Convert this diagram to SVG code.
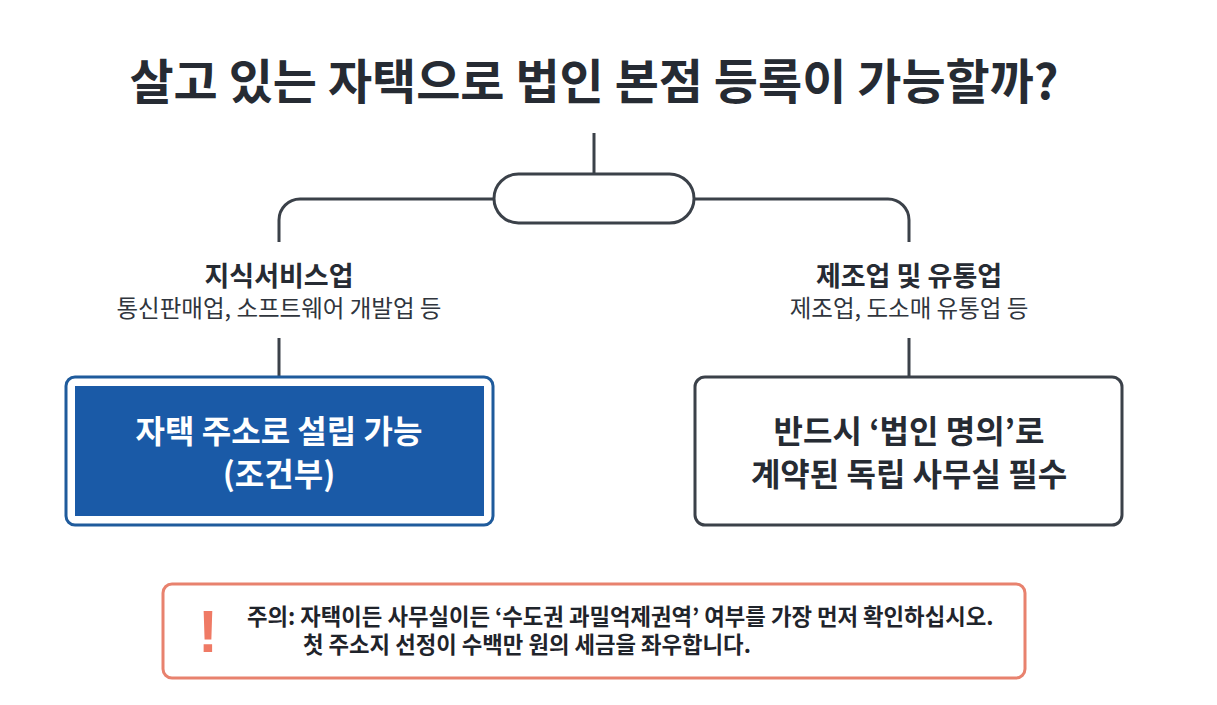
<svg xmlns="http://www.w3.org/2000/svg" width="1217" height="705" viewBox="0 0 1217 705">
<style>
.t{font-family:"Noto Sans CJK KR","Noto Sans",sans-serif;}
.title{font-size:48px;font-weight:700;fill:#262b33;}
.lab{font-size:27px;font-weight:700;fill:#262b33;}
.sub{font-size:23.5px;font-weight:400;fill:#30353d;}
.big{font-size:32px;font-weight:700;}
.note{font-size:22.3px;font-weight:700;fill:#1f242b;}
.conn{fill:none;stroke:#3b4149;stroke-width:3;stroke-linecap:butt;}
</style>
<rect width="1217" height="705" fill="#ffffff"/>
<text class="t title" x="594" y="99" text-anchor="middle">살고 있는 자택으로 법인 본점 등록이 가능할까?</text>
<g id="connectors">
<line class="conn" x1="594" y1="133" x2="594" y2="174"/>
<path class="conn" d="M494 199 H300 A21 21 0 0 0 279 220 V242"/>
<path class="conn" d="M694 199 H888 A21 21 0 0 1 909 220 V242"/>
<line class="conn" x1="279" y1="338" x2="279" y2="377"/>
<line class="conn" x1="909" y1="338" x2="909" y2="377"/>
</g>
<g id="hub">
<rect x="494" y="174" width="200" height="49" rx="24.5" fill="#ffffff" stroke="#3b4149" stroke-width="3"/>
</g>
<g id="label-left">
<text class="t lab" x="279" y="286" text-anchor="middle">지식서비스업</text>
<text class="t sub" x="279" y="317" text-anchor="middle">통신판매업, 소프트웨어 개발업 등</text>
</g>
<g id="label-right">
<text class="t lab" x="909" y="286" text-anchor="middle">제조업 및 유통업</text>
<text class="t sub" x="909" y="317" text-anchor="middle">제조업, 도소매 유통업 등</text>
</g>
<g id="box-left">
<rect x="66" y="377" width="427" height="148" rx="9" fill="#ffffff" stroke="#1f5b9c" stroke-width="3"/>
<rect x="75" y="386" width="409" height="130" fill="#1a5aa7"/>
<text class="t big" x="279" y="443" text-anchor="middle" fill="#ffffff">자택 주소로 설립 가능</text>
<text class="t big" x="279" y="486" text-anchor="middle" fill="#ffffff">(조건부)</text>
</g>
<g id="box-right">
<rect x="695" y="377" width="427" height="148" rx="10" fill="#ffffff" stroke="#3b4149" stroke-width="3"/>
<text class="t big" x="909" y="443" text-anchor="middle" fill="#262b33">반드시 ‘법인 명의’로</text>
<text class="t big" x="909" y="486" text-anchor="middle" fill="#262b33">계약된 독립 사무실 필수</text>
</g>
<g id="note">
<rect x="163" y="584" width="862" height="94" rx="9" fill="#ffffff" stroke="#e8826e" stroke-width="3"/>
<text x="208" y="652" text-anchor="middle" font-family="Liberation Sans, sans-serif" font-size="60" font-weight="700" fill="#ef7a65">!</text>
<text class="t note" x="247" y="625">주의: 자택이든 사무실이든 ‘수도권 과밀억제권역’ 여부를 가장 먼저 확인하십시오.</text>
<text class="t note" x="303" y="653">첫 주소지 선정이 수백만 원의 세금을 좌우합니다.</text>
</g>
</svg>
